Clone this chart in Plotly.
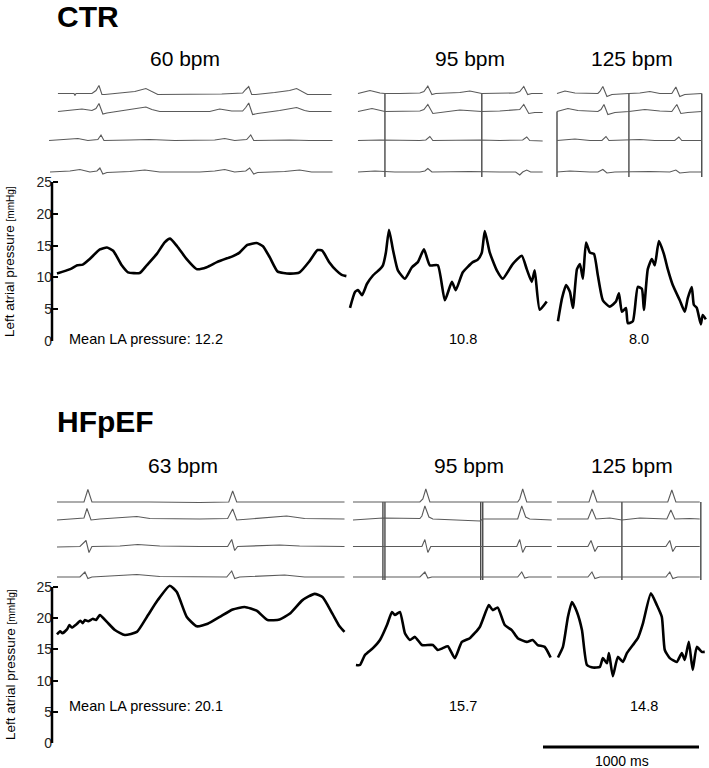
import plotly.graph_objects as go

W, H = 709, 768
MS_PER_PX = 1000 / 156  # horizontal scale, from the 1000 ms bar
FONT = "Liberation Sans, Arial, sans-serif"

# ---------------- data ----------------
# heart rate and mean LA pressure (mmHg) of each recording
ctr_bpm = [60, 95, 125]
hf_bpm = [63, 95, 125]
ctr_mean_la = [12.2, 10.8, 8.0]
hf_mean_la = [20.1, 15.7, 14.8]
scale_bar_ms = 1000

# LA pressure, time in ms from start of each recording, pressure in mmHg
ctr_la_60_t = [0, 85, 130, 165, 210, 275, 320, 360, 415, 455, 530, 575, 640, 690, 725, 770, 830, 895, 960, 1025,
               1090, 1125, 1170, 1220, 1280, 1320, 1365, 1415, 1490, 1555, 1620, 1670, 1700, 1745, 1790, 1825, 1855]
ctr_la_60_p = [10.6, 11.3, 11.9, 12.0, 12.9, 14.4, 14.7, 14.2, 11.9, 10.8, 10.7, 11.9, 13.7, 15.5, 16.1, 14.9, 12.9,
               11.3, 11.6, 12.4, 13.0, 13.3, 13.9, 15.1, 15.4, 14.9, 13.1, 10.9, 10.6, 10.8, 12.6, 14.3, 14.2, 12.4,
               11.1, 10.4, 10.2]
ctr_la_95_t = [0, 32, 51, 77, 109, 147, 192, 211, 230, 250, 275, 307, 352, 397, 435, 474, 512, 563, 608, 653, 678,
               723, 787, 819, 845, 864, 896, 941, 979, 1043, 1101, 1133, 1165, 1184, 1216, 1261]
ctr_la_95_p = [5.2, 7.7, 8.0, 7.2, 9.0, 10.3, 11.3, 11.9, 13.9, 17.5, 14.4, 11.1, 9.8, 11.6, 12.4, 14.4, 11.9, 11.9,
               6.4, 9.3, 8.0, 10.8, 12.4, 12.8, 13.9, 17.3, 13.9, 11.1, 9.8, 12.1, 13.4, 11.3, 9.3, 11.1, 4.9, 6.2]
ctr_la_125_t = [6, 32, 58, 83, 102, 128, 147, 166, 186, 211, 237, 262, 294, 339, 378, 397, 416, 442, 454, 486, 518,
                544, 557, 582, 608, 627, 653, 685, 710, 742, 787, 819, 838, 864, 877, 896, 922, 934, 954]
ctr_la_125_p = [3.1, 6.7, 8.8, 7.7, 5.2, 11.3, 12.1, 9.8, 15.5, 13.9, 13.7, 10.3, 6.4, 5.4, 6.2, 7.5, 4.6, 5.2, 2.8,
                3.1, 8.5, 8.2, 4.9, 11.3, 12.9, 11.9, 15.7, 13.7, 11.3, 8.8, 6.4, 4.6, 6.7, 8.5, 5.7, 5.2, 2.6, 4.1,
                3.4]

hf_la_63_t = [0, 20, 35, 64, 80, 95, 128, 150, 165, 179, 200, 230, 250, 275, 320, 371, 435, 512, 576, 646, 723, 768,
              832, 896, 966, 1043, 1126, 1203, 1280, 1350, 1427, 1491, 1574, 1651, 1702, 1766, 1811, 1843]
hf_la_63_p = [17.4, 17.9, 17.6, 18.2, 18.9, 18.5, 19.1, 19.6, 19.2, 19.7, 19.5, 19.9, 19.7, 20.5, 19.4, 18.1, 17.3,
              17.8, 20.2, 22.9, 25.2, 24.2, 20.2, 18.7, 19.1, 20.2, 21.4, 21.8, 21.2, 19.7, 19.8, 20.7, 22.9, 23.9,
              23.4, 20.7, 18.7, 17.8]
hf_la_95_t = [38, 64, 96, 147, 192, 237, 269, 288, 320, 352, 384, 416, 461, 531, 563, 595, 627, 672, 717, 768, 832,
              890, 915, 947, 992, 1037, 1075, 1133, 1171, 1203, 1248, 1286]
hf_la_95_p = [12.5, 12.5, 14.1, 15.2, 16.5, 18.9, 21.0, 20.5, 21.0, 17.6, 16.5, 17.0, 15.7, 15.7, 14.9, 15.2, 15.5,
              13.6, 16.2, 16.8, 18.6, 22.1, 21.3, 21.7, 18.9, 18.1, 16.8, 16.2, 16.5, 15.7, 15.4, 13.7]
hf_la_125_t = [6, 38, 70, 96, 128, 160, 192, 230, 275, 294, 320, 333, 358, 390, 422, 448, 486, 518, 550, 602, 640,
               672, 691, 723, 768, 800, 819, 845, 870, 896, 928, 947]
hf_la_125_p = [13.7, 15.4, 20.2, 22.6, 21.0, 18.1, 12.5, 12.1, 12.2, 13.6, 12.8, 14.4, 10.7, 13.8, 13.0, 14.4, 15.7,
               16.8, 19.1, 24.0, 22.1, 20.2, 14.9, 13.6, 13.0, 14.4, 13.3, 16.2, 11.7, 15.4, 14.6, 14.6]

# surface ECG, 4 leads per recording: vertices (ms, amplitude a.u.)
ctr_ecg_60_t = [
    [6, 109, 115, 122, 224, 250, 269, 288, 307, 403, 499, 570, 608, 646, 1056, 1139, 1190, 1210, 1229, 1248, 1274,
     1395, 1491, 1536, 1574, 1606, 1760],
    [6, 83, 160, 224, 250, 269, 294, 320, 435, 531, 570, 608, 659, 979, 1043, 1120, 1190, 1210, 1229, 1254, 1286,
     1427, 1536, 1587, 1619, 1760],
    [-51, 83, 134, 198, 262, 282, 301, 467, 595, 755, 1011, 1075, 1139, 1216, 1242, 1261, 1491, 1619, 1766],
    [-45, 83, 147, 211, 256, 275, 294, 320, 467, 563, 659, 915, 1011, 1075, 1139, 1210, 1235, 1261, 1286, 1459,
     1555, 1632, 1766],
]
ctr_ecg_60_a = [
    [0, 0, -2, 0, 0, 3, 8, -1, -1, 0.5, 2, 5, 2, -1, -0.5, 0.5, 0.5, 4, 7, -1, -1, 1, 3, 5, 2, -1, -1],
    [0, 1, 2.5, 1, 3, 8, -2.5, -1.5, 1, 3.5, 4.5, 2, 0, 0, 2.5, 0.5, 0.5, 4, 8.5, -3, -2, 1, 4, 1, 0, 0],
    [0, 1, 2, 0, 1, 5.5, 0, 0.5, 1, 0, 0.5, 2, 0, 1, 5.5, 0, 0.5, 0, 0],
    [0, 1, 2.5, 0, 1, 4, -2, -0.5, 0.5, 2, 0, 0, 1, 2.5, 0, 1, 4, -2, -0.5, 0.5, 2, 0, 0],
]
ctr_ecg_95_t = [
    [51, 128, 192, 224, 320, 448, 474, 499, 525, 550, 704, 768, 845, 960, 1056, 1088, 1114, 1139, 1165, 1235],
    [51, 141, 224, 448, 474, 499, 531, 576, 704, 845, 960, 1088, 1114, 1146, 1184, 1235],
    [51, 192, 448, 486, 512, 531, 832, 960, 1107, 1133, 1152, 1235],
    [51, 160, 288, 448, 480, 499, 525, 768, 960, 1062, 1088, 1107, 1133, 1158, 1235],
]
ctr_ecg_95_a = [
    [0, 3, 0.5, 0, 0, 0.5, 2, 7.5, -1, 0, 1, 2.5, 0, 0, 0.5, 2, 7, -1, 0, 0],
    [0, 3, 0, 0.5, 2, 7, -2, -1, 1.5, 0, 0.5, 2, 7, -2, -1, -1],
    [0, 0.5, 0, 0.5, 4, 0, 0.5, 0, 0.5, 3.5, 0, -0.5],
    [0, 1, 0, 0, 1, 3.5, 0, 0.5, 0, 0, -3, 0, 2, 0, 0],
]
ctr_ecg_125_t = [
    [0, 51, 115, 262, 275, 294, 320, 352, 461, 531, 595, 659, 736, 762, 787, 819, 928],
    [0, 70, 134, 262, 282, 301, 326, 371, 461, 563, 659, 736, 768, 794, 838, 928],
    [0, 115, 211, 288, 314, 333, 531, 627, 755, 781, 800, 928],
    [0, 83, 211, 262, 294, 320, 371, 595, 723, 762, 787, 851, 928],
]
ctr_ecg_125_a = [
    [0, 2.5, 0.5, 0, 2, 7, -3, -1, 0, 0.5, 2, 0, 0, 6.5, -3, -1, 0],
    [0, 3, 1, 0, 2, 7, -3, -1, 0, 2, 0.5, 0, 7, -2, -1, 0],
    [0, 1.5, 0, 0, 4, 0, 1, 0, 0, 3.5, 0, 0],
    [0, 1, 0, 0, 2.5, -1, 0, 0.5, 0, 2, -1, 0, 0],
]
hf_ecg_63_t = [
    [0, 83, 173, 198, 224, 595, 915, 1101, 1126, 1152, 1555, 1843],
    [0, 147, 173, 192, 218, 275, 403, 512, 595, 915, 1094, 1126, 1152, 1299, 1472, 1587, 1843],
    [0, 147, 186, 205, 224, 403, 518, 659, 915, 1094, 1120, 1139, 1158, 1427, 1555, 1843],
    [0, 147, 179, 198, 224, 512, 659, 915, 1088, 1120, 1139, 1171, 1459, 1587, 1843],
]
hf_ecg_63_a = [
    [0, 0, 0, 12.5, 0, 0, -0.5, 0, 11, 0, 0, 0],
    [-1, 1, 1, 10.5, -1, 0, 1, 2.5, 0.5, 0, 0.5, 10, -1, 0.5, 3, 0.5, 0],
    [-0.5, 0, 6, -6, 0, 0.5, 2, 0.5, 0, 0, 7, -4, 0, 1.5, 0.5, 0],
    [0, 0, 5, -1.5, 0, 2.5, 0.5, 0, 0, 6, -1.5, 0, 2, 0, 0],
]
hf_ecg_95_t = [
    [19, 211, 448, 467, 486, 512, 768, 838, 1075, 1088, 1107, 1133, 1293],
    [19, 211, 448, 461, 480, 506, 531, 832, 851, 1075, 1101, 1126, 1152, 1293],
    [19, 461, 480, 499, 518, 845, 1069, 1088, 1107, 1126, 1293],
    [19, 448, 480, 499, 525, 845, 1075, 1101, 1120, 1146, 1293],
]
hf_ecg_95_a = [
    [0, 0, 0, 3, 13, 0, 0, 0, 0, 3, 13, 0, 0],
    [-1, 1, 0.5, 3, 13, 2, 0, -2, 0, 0, 13, 2, 0, -1],
    [0, 0, 7, -6, 0, 0, 0, 7, -6, 0, 0],
    [0, 0, 5, -1, 0, 0, 0, 5, -1, 0, 0],
]
hf_ecg_125_t = [
    [0, 205, 230, 256, 416, 710, 736, 762, 915],
    [0, 198, 224, 250, 339, 416, 531, 704, 730, 755, 851, 915],
    [0, 198, 218, 243, 262, 416, 698, 723, 742, 762, 915],
    [0, 198, 224, 243, 275, 416, 698, 723, 742, 774, 915],
]
hf_ecg_125_a = [
    [0, 0, 12, 0, 0, 0, 12, 0, 0],
    [0, 0, 10, 0, 1, -1, 1, 0, 9, 0, 0.5, 0],
    [0, 0, 6, -5, 0, 0, 0, 6, -5, 0, 0],
    [0, 0, 5, -1.5, 0, 0, 0, 5, -1.5, 0, 0],
]

# pacing spikes (ms from recording start)
ctr_pace_95 = [224, 845]
ctr_pace_125 = [0, 461, 928]
hf_pace_95 = [211, 224, 838, 851]
hf_pace_125 = [416, 922]

# ---------------- layout helpers ----------------
SEG_X0 = [57 * MS_PER_PX, 350 * MS_PER_PX, 557 * MS_PER_PX]  # where each recording starts


def dom(top_px, bottom_px):
    return [1 - bottom_px / H, 1 - top_px / H]


def px(x):
    return x / W


def py(y):
    return 1 - y / H


fig = go.Figure()


def add_line(t, v, x0, yaxis, color, width, shape="linear"):
    fig.add_trace(go.Scatter(x=[x0 + a for a in t], y=v, mode="lines", yaxis=yaxis,
                             line=dict(color=color, width=width, shape=shape, smoothing=0.5),
                             hoverinfo="skip", showlegend=False))


panels = [
    dict(la=[(ctr_la_60_t, ctr_la_60_p), (ctr_la_95_t, ctr_la_95_p), (ctr_la_125_t, ctr_la_125_p)],
         ecg=[(ctr_ecg_60_t, ctr_ecg_60_a), (ctr_ecg_95_t, ctr_ecg_95_a), (ctr_ecg_125_t, ctr_ecg_125_a)],
         pace=[[], ctr_pace_95, ctr_pace_125],
         leads=[91.5, 73.5, 44.5, 13], pace_bottom=8,
         ya="y", ye="y2"),
    dict(la=[(hf_la_63_t, hf_la_63_p), (hf_la_95_t, hf_la_95_p), (hf_la_125_t, hf_la_125_p)],
         ecg=[(hf_ecg_63_t, hf_ecg_63_a), (hf_ecg_95_t, hf_ecg_95_a), (hf_ecg_125_t, hf_ecg_125_a)],
         pace=[[], hf_pace_95, hf_pace_125],
         leads=[88, 71, 43.5, 13], pace_bottom=10,
         ya="y3", ye="y4"),
]

for p in panels:
    for k in range(3):
        # pacing spikes
        xs, ys = [], []
        for t in p["pace"][k]:
            top = p["leads"][1] if (p["ya"] == "y" and k == 2 and t == 0) else p["leads"][0]
            xs += [SEG_X0[k] + t, SEG_X0[k] + t, None]
            ys += [top, p["pace_bottom"], None]
        if xs:
            fig.add_trace(go.Scatter(x=xs, y=ys, mode="lines", yaxis=p["ye"],
                                     line=dict(color="#3a3a3a", width=1.3), hoverinfo="skip", showlegend=False))
        # ECG leads
        et, ea = p["ecg"][k]
        for i in range(4):
            add_line(et[i], [p["leads"][i] + a for a in ea[i]], SEG_X0[k], p["ye"], "#5a5a5a", 1.1)
        # LA pressure
        lt, lv = p["la"][k]
        add_line(lt, lv, SEG_X0[k], p["ya"], "black", 2.6, "spline")

PX_PER_MMHG_CTR = (341 - 182) / 25
PX_PER_MMHG_HF = (743 - 587) / 25

press_axis = dict(range=[0, 26.5], anchor="free", position=px(52), showline=False, showgrid=False,
                  zeroline=False, ticks="inside", ticklen=5, tickwidth=2, tickcolor="black", automargin=False,
                  tickvals=[0, 5, 10, 15, 20, 25], tickfont=dict(family=FONT, size=14, color="#222"))

fig.update_layout(
    width=W, height=H, margin=dict(l=0, r=0, t=0, b=0, pad=0), autosize=False,
    paper_bgcolor="white", plot_bgcolor="rgba(0,0,0,0)",
    xaxis=dict(range=[0, W * MS_PER_PX], domain=[0, 1], visible=False, automargin=False),
    yaxis=dict(press_axis, domain=dom(341 - 26.5 * PX_PER_MMHG_CTR, 341)),
    yaxis2=dict(range=[0, 115], domain=dom(70, 185), visible=False, anchor="x", automargin=False),
    yaxis3=dict(press_axis, domain=dom(743 - 26.5 * PX_PER_MMHG_HF, 743)),
    yaxis4=dict(range=[0, 110], domain=dom(480, 590), visible=False, anchor="x", automargin=False),
)

# axis spines (0-25 mmHg only) and the time scale bar
for ya in ["y", "y3"]:
    fig.add_shape(type="line", xref="paper", yref=ya, x0=px(52), x1=px(52), y0=0, y1=25,
                  line=dict(color="black", width=2.5))
fig.add_shape(type="line", xref="x", yref="paper", x0=543 * MS_PER_PX, x1=543 * MS_PER_PX + scale_bar_ms,
              y0=py(747), y1=py(747), line=dict(color="black", width=3))

ann = []


def text(x, y, s, size, xanchor="center", **kw):
    ann.append(dict(x=px(x), y=py(y), xref="paper", yref="paper", text=s, showarrow=False,
                    xanchor=xanchor, yanchor="middle", font=dict(family=FONT, size=size, color="black"), **kw))


text(55, 16, "<b>CTR</b>", 30, "left")
text(55, 421, "<b>HFpEF</b>", 30, "left")
for i, xc in enumerate([185, 470, 632]):
    text(xc, 59, f"{ctr_bpm[i]} bpm", 21)
for i, xc in enumerate([183, 469, 632]):
    text(xc, 465, f"{hf_bpm[i]} bpm", 21)

text(67, 339, f"Mean LA pressure: {ctr_mean_la[0]:.1f}", 14.5, "left")
text(463, 339, f"{ctr_mean_la[1]:.1f}", 14.5)
text(639, 339, f"{ctr_mean_la[2]:.1f}", 14.5)
text(67, 706, f"Mean LA pressure: {hf_mean_la[0]:.1f}", 14.5, "left")
text(463, 706, f"{hf_mean_la[1]:.1f}", 14.5)
text(644, 706, f"{hf_mean_la[2]:.1f}", 14.5)
text(622, 761, f"{scale_bar_ms} ms", 14)

ylab = "Left atrial pressure <span style='font-size:10px'>[mmHg]</span>"
text(10, 262, ylab, 13.5, textangle=-90)
text(10, 665, ylab, 13.5, textangle=-90)

fig.update_layout(annotations=ann)

fig.write_html("out.html", config={"displayModeBar": False},
               post_script="document.body.style.margin='0px';")
